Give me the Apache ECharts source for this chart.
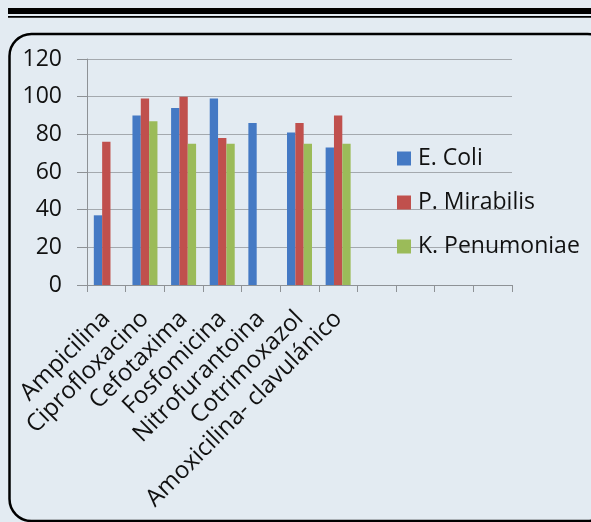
<!DOCTYPE html>
<html>
<head>
<meta charset="utf-8">
<script src="https://cdn.jsdelivr.net/npm/echarts@6/dist/echarts.min.js"></script>
<style>
  html, body { margin: 0; padding: 0; background: #e3ebf2; }
  #chart { width: 591px; height: 522px; }
</style>
</head>
<body>
<div id="chart"></div>
<script>
// Antibiotics on the category axis; the trailing empty slots keep the axis width.
const categories = [
  'Ampicilina', 'Ciprofloxacino', 'Cefotaxima', 'Fosfomicina',
  'Nitrofurantoina', 'Cotrimoxazol', 'Amoxicilina- clavulánico',
  '', '', '', ''
];
const seriesNames = ['E. Coli', 'P. Mirabilis', 'K. Penumoniae'];
const eColi       = [37, 90, 94, 99, 86, 81, 73];
const pMirabilis  = [76, 99, 100, 78, null, 86, 90];
const kPneumoniae = [null, 87, 75, 75, null, 75, 75];
const yTicks = { min: 0, max: 120, interval: 20 };

const colors = ['#4479c4', '#c0504d', '#9bbb59'];
const font = '"Open Sans", sans-serif';
const textColor = '#111111';

const chart = echarts.init(document.getElementById('chart'), null, { renderer: 'canvas' });

chart.setOption({
  backgroundColor: '#e3ebf2',
  animation: false,
  color: colors,
  grid: { left: 87, right: 79, top: 59, bottom: 237, containLabel: false },
  legend: {
    orient: 'vertical',
    left: 392,
    top: 139,
    itemWidth: 14,
    itemHeight: 14,
    itemGap: 15,
    icon: 'rect',
    textStyle: { fontFamily: font, fontSize: 23, color: textColor, lineHeight: 29, padding: [0, 0, 0, 2] },
    data: seriesNames
  },
  xAxis: {
    type: 'category',
    data: categories,
    boundaryGap: true,
    axisLine: { lineStyle: { color: '#8e9296', width: 1 } },
    axisTick: { show: true, length: 7, alignWithLabel: false, lineStyle: { color: '#8e9296' } },
    axisLabel: {
      interval: 0,
      rotate: 45,
      margin: 30,
      fontFamily: font,
      fontSize: 24,
      color: textColor
    },
    splitLine: { show: false }
  },
  yAxis: {
    type: 'value',
    min: yTicks.min,
    max: yTicks.max,
    interval: yTicks.interval,
    axisLine: { show: true, lineStyle: { color: '#8e9296', width: 1 } },
    axisTick: { show: true, inside: false, length: 10, lineStyle: { color: '#8e9296' } },
    axisLabel: { margin: 25, fontFamily: font, fontSize: 23, color: textColor },
    splitLine: { show: true, lineStyle: { color: '#a4a9ae', width: 1 } }
  },
  series: [
    { name: seriesNames[0], type: 'bar', data: eColi, barGap: '0%', barCategoryGap: '35.3%' },
    { name: seriesNames[1], type: 'bar', data: pMirabilis, barGap: '0%', barCategoryGap: '35.3%' },
    { name: seriesNames[2], type: 'bar', data: kPneumoniae, barGap: '0%', barCategoryGap: '35.3%' }
  ],
  graphic: [
    // double rule across the top
    { type: 'rect', shape: { x: 8, y: 8, width: 600, height: 6 }, style: { fill: '#000' }, silent: true },
    { type: 'rect', shape: { x: 8, y: 16, width: 600, height: 1.8 }, style: { fill: '#000' }, silent: true },
    // rounded frame around the chart
    {
      type: 'rect',
      shape: { x: 9.5, y: 34, width: 600, height: 487, r: 22 },
      style: { fill: 'none', stroke: '#000', lineWidth: 2.5 },
      silent: true,
      z: 10
    }
  ]
});
</script>
</body>
</html>
